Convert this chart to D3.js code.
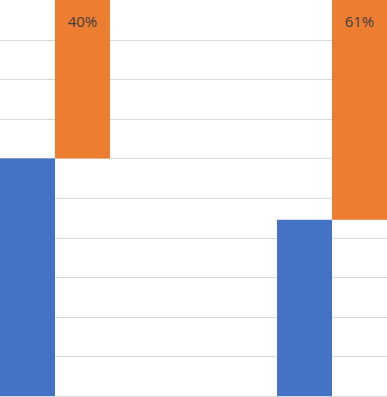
<!DOCTYPE html>
<html>
<head>
<meta charset="utf-8">
<script src="https://cdn.jsdelivr.net/npm/d3@7"></script>
<style>
  html, body { margin: 0; padding: 0; background: #fff; }
  svg { display: block; }
</style>
</head>
<body>
<svg id="chart" width="387" height="397"></svg>
<script>
// Data (percentages)
const categories = ["Group 1", "Group 2"];
const seriesNames = ["Base", "Share"];
const baseValues = [60, 44.5];
const shareValues = [40, 61];
const shareLabels = ["40%", "61%"];
const yTicks = [0, 10, 20, 30, 40, 50, 60, 70, 80, 90];

const W = 387, H = 397;
const svg = d3.select("#chart");

const x = d3.scaleBand().domain(categories).range([0, W]).paddingInner(0.603).paddingOuter(0);
const xs = d3.scaleBand().domain(seriesNames).range([0, x.bandwidth()]).padding(0);
const y = d3.scaleLinear().domain([0, 100]).range([396, 0]);

const defs = svg.append("defs");
defs.append("clipPath").attr("id", "plot").append("rect")
  .attr("x", 0).attr("y", 0).attr("width", W).attr("height", H);

// gridlines
svg.append("g").selectAll("line").data(yTicks).join("line")
  .attr("x1", 0).attr("x2", W)
  .attr("y1", d => Math.round(y(d)) + 0.5).attr("y2", d => Math.round(y(d)) + 0.5)
  .attr("stroke", "#d9d9d9").attr("stroke-width", 1);

const g = svg.append("g").attr("clip-path", "url(#plot)");

// base bars (blue)
g.selectAll("rect.base").data(categories).join("rect").attr("class", "base")
  .attr("x", (c) => x(c) + xs("Base"))
  .attr("width", xs.bandwidth())
  .attr("y", (c, i) => y(baseValues[i]))
  .attr("height", (c, i) => y(0) - y(baseValues[i]))
  .attr("fill", "#4472C4");

// share bars (orange), stacked on top of base
g.selectAll("rect.share").data(categories).join("rect").attr("class", "share")
  .attr("x", (c) => x(c) + xs("Share"))
  .attr("width", xs.bandwidth())
  .attr("y", (c, i) => y(baseValues[i] + shareValues[i]))
  .attr("height", (c, i) => y(baseValues[i]) - y(baseValues[i] + shareValues[i]))
  .attr("fill", "#ED7D31");

// labels near the top (inside end, clamped to the plot)
svg.selectAll("text.lbl").data(categories).join("text").attr("class", "lbl")
  .attr("x", (c) => x(c) + xs("Share") + xs.bandwidth() / 2)
  .attr("y", (c, i) => Math.max(0, y(baseValues[i] + shareValues[i])) + 27)
  .attr("text-anchor", "middle")
  .attr("font-family", "'Open Sans', 'Liberation Sans', sans-serif")
  .attr("font-size", 15)
  .attr("fill", "#404040")
  .text((c, i) => shareLabels[i]);
</script>
</body>
</html>
